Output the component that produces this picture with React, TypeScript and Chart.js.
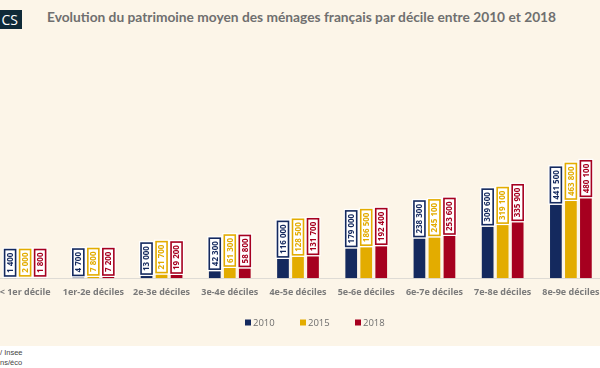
import React, { useEffect, useRef } from "react";
import { Chart, registerables } from "chart.js";

Chart.register(...registerables);

const categories = [
  "< 1er décile",
  "1er-2e déciles",
  "2e-3e déciles",
  "3e-4e déciles",
  "4e-5e déciles",
  "5e-6e déciles",
  "6e-7e déciles",
  "7e-8e déciles",
  "8e-9e déciles",
];
const values2010 = [1400, 4700, 13000, 42300, 116000, 179000, 238300, 309600, 441500];
const values2015 = [2000, 7800, 21700, 61300, 128500, 186500, 245100, 319100, 463800];
const values2018 = [1800, 7200, 19200, 58800, 131700, 192400, 253600, 335900, 480100];
const seriesNames = ["2010", "2015", "2018"];
const seriesColors = ["#14295e", "#e3ac00", "#a6001f"];

const CANVAS_LEFT = -9;
const CANVAS_TOP = 40;

const fmt = (v: number) => {
  const s = String(Math.round(v));
  return s.replace(/\B(?=(\d{3})+(?!\d))/g, " ");
};

const labelPlugin = {
  id: "boxLabels",
  afterDatasetsDraw(chart: any) {
    const ctx = chart.ctx;
    chart.data.datasets.forEach((ds: any, di: number) => {
      const meta = chart.getDatasetMeta(di);
      meta.data.forEach((bar: any, i: number) => {
        const v = ds.data[i];
        const text = fmt(v);
        ctx.save();
        ctx.font = "bold 8px 'Open Sans'";
        const tw = ctx.measureText(text).width;
        const h = tw + 7;
        const w = 12;
        const x = bar.x;
        const bottom = bar.y - 1.5;
        ctx.translate(x, bottom);
        ctx.rotate(-Math.PI / 2);
        ctx.fillStyle = "#ffffff";
        ctx.fillRect(-1.5, -w / 2 - 1.5, h + 3, w + 3);
        ctx.strokeStyle = ds.backgroundColor;
        ctx.lineWidth = 1.6;
        ctx.strokeRect(0.5, -w / 2 + 0.5, h - 1, w - 1);
        ctx.fillStyle = ds.backgroundColor;
        ctx.textAlign = "center";
        ctx.textBaseline = "middle";
        ctx.fillText(text, h / 2, 0.5);
        ctx.restore();
      });
    });
  },
};

// legend drawn from the datasets, placed as in the reference
const legendPlugin = {
  id: "customLegend",
  afterDraw(chart: any) {
    const ctx = chart.ctx;
    const startX = 245 - CANVAS_LEFT;
    const step = 55;
    const cy = 322.5 - CANVAS_TOP;
    ctx.save();
    ctx.font = "9.5px 'Open Sans'";
    ctx.textBaseline = "middle";
    ctx.textAlign = "left";
    chart.data.datasets.forEach((ds: any, i: number) => {
      const x = startX + i * step;
      ctx.fillStyle = ds.backgroundColor;
      ctx.fillRect(x, cy - 3, 6, 6);
      ctx.fillStyle = "#6e6e6e";
      ctx.fillText(ds.label, x + 8, cy + 0.5);
    });
    ctx.restore();
  },
};

export default function App() {
  const ref = useRef<HTMLCanvasElement | null>(null);
  useEffect(() => {
    if (!ref.current) return;
    const chart = new Chart(ref.current, {
      type: "bar",
      data: {
        labels: categories,
        datasets: [values2010, values2015, values2018].map((d, k) => ({
          label: seriesNames[k],
          data: d,
          backgroundColor: seriesColors[k],
          borderWidth: 0,
          categoryPercentage: 0.66,
          barPercentage: 0.78,
        })),
      },
      options: {
        animation: false,
        responsive: false,
        maintainAspectRatio: false,
        layout: { padding: { top: 155, left: 0, right: 0, bottom: 46 } },
        scales: {
          x: {
            grid: { display: false },
            border: { display: true, color: "#dedbd5", width: 1 },
            ticks: {
              color: "#7a7a7a",
              font: { family: "'Open Sans'", size: 9, weight: "bold" },
              padding: 1,
              maxRotation: 0,
              autoSkip: false,
            },
          },
          y: {
            display: false,
            min: 0,
            max: 500000,
          },
        },
        plugins: {
          legend: { display: false },
          tooltip: { enabled: false },
        },
      },
      plugins: [labelPlugin, legendPlugin],
    });
    return () => chart.destroy();
  }, []);

  return (
    <div style={{ position: "fixed", left: 0, top: 0, width: 600, height: 368, overflow: "hidden", background: "#ffffff", fontFamily: "'Open Sans'" }}>
      <div style={{ position: "absolute", left: 0, top: 0, width: 600, height: 346, background: "#fcf5e8" }} />
      <div
        style={{
          position: "absolute",
          left: 0,
          top: 10,
          width: 22,
          height: 19,
          background: "#0f2a38",
          color: "#ffffff",
          fontSize: 14,
          lineHeight: "19px",
          overflow: "hidden",
          whiteSpace: "nowrap",
          direction: "rtl",
          paddingRight: 4,
          boxSizing: "border-box",
        }}
      >
        CS
      </div>
      <div
        style={{
          position: "absolute",
          left: 47,
          top: 8,
          fontFamily: "Lato",
          fontWeight: 700,
          fontSize: 13.75,
          color: "#6f6f6f",
          whiteSpace: "nowrap",
        }}
      >
        Evolution du patrimoine moyen des ménages français par décile entre 2010 et 2018
      </div>
      <canvas
        ref={ref}
        width={614}
        height={305}
        style={{ position: "absolute", left: CANVAS_LEFT, top: CANVAS_TOP, width: 614, height: 305 }}
      />
      <div style={{ position: "absolute", left: 0, top: 348, fontFamily: "Arimo, 'Liberation Sans', Arial", fontSize: 7.5, lineHeight: "10px", color: "#444" }}>
        <div>/ Insee</div>
        <div>ns/éco</div>
      </div>
    </div>
  );
}
